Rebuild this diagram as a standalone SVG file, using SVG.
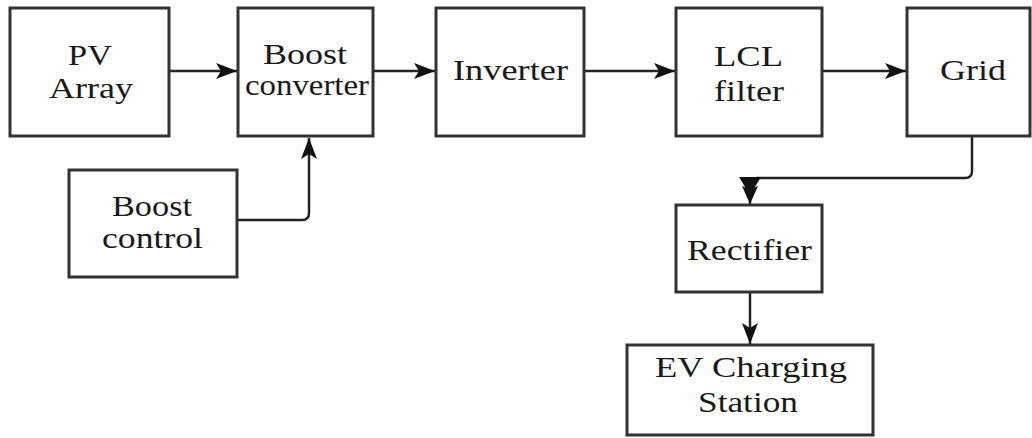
<svg xmlns="http://www.w3.org/2000/svg" width="1032" height="438" viewBox="0 0 1032 438">
<style>
.box{fill:#fff;stroke:#333;stroke-width:3}
text{font-family:'Liberation Serif','Times New Roman',Times,serif;font-size:30px;fill:#1a1a1a}
.c{fill:none;stroke:#222;stroke-width:2.5;stroke-linejoin:round}
</style>
<defs>
<marker id="ah" markerUnits="userSpaceOnUse" markerWidth="22" markerHeight="16" refX="21" refY="8" orient="auto">
<path d="M0,0 L21,8 L0,16 L5,8 Z" fill="#111"/>
</marker>
<marker id="ah2" markerUnits="userSpaceOnUse" markerWidth="28" markerHeight="22" refX="27" refY="11" orient="auto">
<path d="M0,0 L18,11 L0,22 Z" fill="#111"/>
<path d="M9,3 L27,11 L9,19 L12,11 Z" fill="#111"/>
</marker>
</defs>
<rect width="1032" height="438" fill="#fff"/>
<g id="connectors">
<path class="c" d="M169,71 H237" marker-end="url(#ah)"/>
<path class="c" d="M373,71 H435" marker-end="url(#ah)"/>
<path class="c" d="M584,71 H675" marker-end="url(#ah)"/>
<path class="c" d="M822,71 H906" marker-end="url(#ah)"/>
<path class="c" d="M237,220 H302 Q309,220 309,213 V138" marker-end="url(#ah)"/>
<path class="c" d="M972,136 V171 Q972,178 965,178 H757 Q750,178 750,185 V204" marker-end="url(#ah2)"/>
<path class="c" d="M750,292 V344" marker-end="url(#ah)"/>
</g>
<g id="pv-array">
<rect class="box" x="10" y="8" width="159" height="128"/>
<text x="68" y="65" textLength="44" lengthAdjust="spacingAndGlyphs">PV</text>
<text x="49" y="98" textLength="84" lengthAdjust="spacingAndGlyphs">Array</text>
</g>
<g id="boost-converter">
<rect class="box" x="238" y="8" width="135" height="128"/>
<text x="263" y="64" textLength="84" lengthAdjust="spacingAndGlyphs">Boost</text>
<text x="245" y="95" textLength="124" lengthAdjust="spacingAndGlyphs">converter</text>
</g>
<g id="inverter">
<rect class="box" x="436" y="8" width="148" height="128"/>
<text x="453" y="80" textLength="115" lengthAdjust="spacingAndGlyphs">Inverter</text>
</g>
<g id="lcl-filter">
<rect class="box" x="676" y="8" width="146" height="128"/>
<text x="714" y="66" textLength="69" lengthAdjust="spacingAndGlyphs">LCL</text>
<text x="714" y="101" textLength="70" lengthAdjust="spacingAndGlyphs">filter</text>
</g>
<g id="grid">
<rect class="box" x="907" y="8" width="123" height="128"/>
<text x="940" y="80" textLength="66" lengthAdjust="spacingAndGlyphs">Grid</text>
</g>
<g id="boost-control">
<rect class="box" x="69" y="170" width="168" height="107"/>
<text x="112" y="216" textLength="80" lengthAdjust="spacingAndGlyphs">Boost</text>
<text x="102" y="248" textLength="101" lengthAdjust="spacingAndGlyphs">control</text>
</g>
<g id="rectifier">
<rect class="box" x="676" y="205" width="146" height="87"/>
<text x="687" y="260" textLength="125" lengthAdjust="spacingAndGlyphs">Rectifier</text>
</g>
<g id="ev-charging-station">
<rect class="box" x="627" y="345" width="246" height="90"/>
<text x="655" y="377" textLength="192" lengthAdjust="spacingAndGlyphs">EV Charging</text>
<text x="698" y="412" textLength="100" lengthAdjust="spacingAndGlyphs">Station</text>
</g>
</svg>
